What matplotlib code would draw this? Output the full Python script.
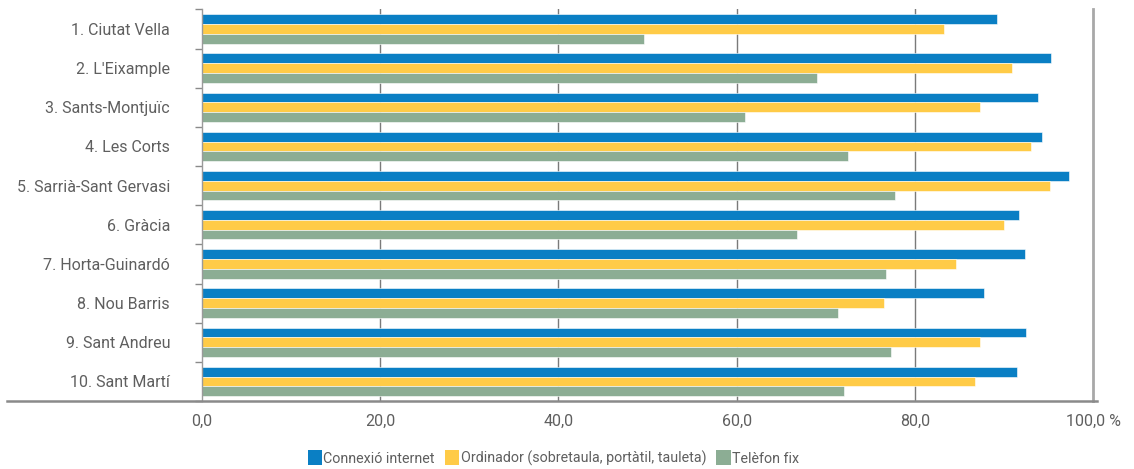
import matplotlib
matplotlib.use("Agg")
import matplotlib.pyplot as plt
import numpy as np
from matplotlib.patches import Patch

# ─── Data ─────────────────────────────────────────────────────────────────────
districts = [
    "1. Ciutat Vella", "2. L'Eixample", "3. Sants-Montjuïc", "4. Les Corts",
    "5. Sarrià-Sant Gervasi", "6. Gràcia", "7. Horta-Guinardó",
    "8. Nou Barris", "9. Sant Andreu", "10. Sant Martí",
]
internet  = [89.2, 95.3, 93.8, 94.2, 97.3, 91.7, 92.3, 87.7, 92.4, 91.4]
ordinador = [83.2, 90.9, 87.3, 93.0, 95.1, 90.0, 84.6, 76.5, 87.3, 86.7]
telefon   = [49.6, 69.0, 60.9, 72.5, 77.8, 66.8, 76.7, 71.4, 77.3, 72.0]

series_names = ["Connexió internet", "Ordinador (sobretaula, portàtil, tauleta)", "Telèfon fix"]
xticks = [0, 20, 40, 60, 80, 100]
xtick_labels = ["0,0", "20,0", "40,0", "60,0", "80,0", "100,0 %"]

# ─── Style ────────────────────────────────────────────────────────────────────
COLORS   = ["#0a7fc4", "#ffcb47", "#8cad94"]
TEXT_CLR = "#5f5f5f"
GRID_CLR = "#7a7a7a"
AXIS_CLR = "#8a8a8a"

plt.rcParams["font.family"] = ["Roboto", "DejaVu Sans"]

fig = plt.figure(figsize=(11.34, 4.69), dpi=100)
ax = fig.add_axes([0.1781, 0.145, 0.7860, 0.835])

y = np.arange(len(districts))
h = 0.25
for k, vals in enumerate([internet, ordinador, telefon]):
    ax.barh(y + (k - 1) * h, vals, height=h, color=COLORS[k],
            edgecolor="white", linewidth=0.4, zorder=2)

ax.set_xlim(0, 100)
ax.set_ylim(len(districts) - 0.5, -0.5)

ax.set_xticks(xticks)
ax.set_xticklabels(xtick_labels, color=TEXT_CLR, fontsize=11.5)
ax.tick_params(axis="x", length=0, pad=9)

ax.set_yticks(y)
ax.set_yticklabels(districts, color=TEXT_CLR, fontsize=11.5)
ax.tick_params(axis="y", which="major", length=0, pad=23)
ax.set_yticks(np.arange(len(districts) + 1) - 0.5, minor=True)
ax.tick_params(axis="y", which="minor", length=5, width=1, color=AXIS_CLR, direction="out")

for xv in xticks[1:-1]:
    ax.axvline(xv, color=GRID_CLR, linewidth=1, zorder=1)

for side in ("top", "bottom"):
    ax.spines[side].set_visible(False)
ax.spines["left"].set_color("#9a9a9a")
ax.spines["left"].set_linewidth(1)
ax.spines["right"].set_color("#a8a8a8")
ax.spines["right"].set_linewidth(2)

# x axis line reaching under the district labels
ax.plot([-0.219, 1.004], [0, 0], transform=ax.transAxes, color=AXIS_CLR,
        linewidth=1.8, clip_on=False, zorder=3)

handles = [Patch(facecolor=c, edgecolor="none") for c in COLORS]
fig.legend(handles, series_names, loc="center", bbox_to_anchor=(0.488, 0.023),
           ncol=3, frameon=False, labelcolor=TEXT_CLR, fontsize=10.3,
           handlelength=1.0, handleheight=1.2, handletextpad=0.1,
           columnspacing=0.7, borderpad=0)

fig.savefig("out.png", dpi=100, facecolor="white")
